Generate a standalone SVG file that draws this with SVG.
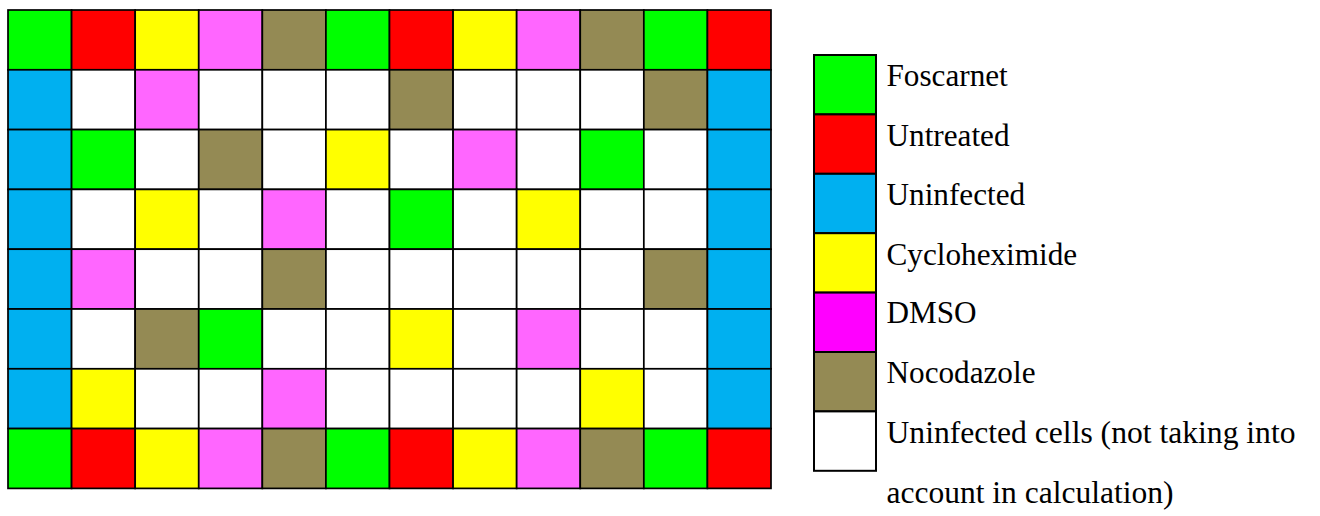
<svg xmlns="http://www.w3.org/2000/svg" width="1320" height="516" viewBox="0 0 1320 516">
<style>
rect{stroke:#000;stroke-width:1.7}
.g{fill:#00FF00}.r{fill:#FF0000}.b{fill:#00B0F0}.y{fill:#FFFF00}.p{fill:#FF66FF}.m{fill:#FF00FF}.n{fill:#948A54}.w{fill:#FFFFFF}
.lg rect{stroke-width:2}
</style>
<rect x="0" y="0" width="1320" height="516" fill="#fff" style="stroke:none"/>
<g id="plate">
<g id="row0">
<rect class="g" x="8" y="10" width="63.58" height="59.8"/><rect class="r" x="71.58" y="10" width="63.58" height="59.8"/><rect class="y" x="135.17" y="10" width="63.58" height="59.8"/><rect class="p" x="198.75" y="10" width="63.58" height="59.8"/><rect class="n" x="262.33" y="10" width="63.58" height="59.8"/><rect class="g" x="325.92" y="10" width="63.58" height="59.8"/><rect class="r" x="389.5" y="10" width="63.58" height="59.8"/><rect class="y" x="453.08" y="10" width="63.58" height="59.8"/><rect class="p" x="516.67" y="10" width="63.58" height="59.8"/><rect class="n" x="580.25" y="10" width="63.58" height="59.8"/><rect class="g" x="643.83" y="10" width="63.58" height="59.8"/><rect class="r" x="707.42" y="10" width="63.58" height="59.8"/>
</g>
<g id="row1">
<rect class="b" x="8" y="69.8" width="63.58" height="59.8"/><rect class="w" x="71.58" y="69.8" width="63.58" height="59.8"/><rect class="p" x="135.17" y="69.8" width="63.58" height="59.8"/><rect class="w" x="198.75" y="69.8" width="63.58" height="59.8"/><rect class="w" x="262.33" y="69.8" width="63.58" height="59.8"/><rect class="w" x="325.92" y="69.8" width="63.58" height="59.8"/><rect class="n" x="389.5" y="69.8" width="63.58" height="59.8"/><rect class="w" x="453.08" y="69.8" width="63.58" height="59.8"/><rect class="w" x="516.67" y="69.8" width="63.58" height="59.8"/><rect class="w" x="580.25" y="69.8" width="63.58" height="59.8"/><rect class="n" x="643.83" y="69.8" width="63.58" height="59.8"/><rect class="b" x="707.42" y="69.8" width="63.58" height="59.8"/>
</g>
<g id="row2">
<rect class="b" x="8" y="129.6" width="63.58" height="59.8"/><rect class="g" x="71.58" y="129.6" width="63.58" height="59.8"/><rect class="w" x="135.17" y="129.6" width="63.58" height="59.8"/><rect class="n" x="198.75" y="129.6" width="63.58" height="59.8"/><rect class="w" x="262.33" y="129.6" width="63.58" height="59.8"/><rect class="y" x="325.92" y="129.6" width="63.58" height="59.8"/><rect class="w" x="389.5" y="129.6" width="63.58" height="59.8"/><rect class="p" x="453.08" y="129.6" width="63.58" height="59.8"/><rect class="w" x="516.67" y="129.6" width="63.58" height="59.8"/><rect class="g" x="580.25" y="129.6" width="63.58" height="59.8"/><rect class="w" x="643.83" y="129.6" width="63.58" height="59.8"/><rect class="b" x="707.42" y="129.6" width="63.58" height="59.8"/>
</g>
<g id="row3">
<rect class="b" x="8" y="189.4" width="63.58" height="59.8"/><rect class="w" x="71.58" y="189.4" width="63.58" height="59.8"/><rect class="y" x="135.17" y="189.4" width="63.58" height="59.8"/><rect class="w" x="198.75" y="189.4" width="63.58" height="59.8"/><rect class="p" x="262.33" y="189.4" width="63.58" height="59.8"/><rect class="w" x="325.92" y="189.4" width="63.58" height="59.8"/><rect class="g" x="389.5" y="189.4" width="63.58" height="59.8"/><rect class="w" x="453.08" y="189.4" width="63.58" height="59.8"/><rect class="y" x="516.67" y="189.4" width="63.58" height="59.8"/><rect class="w" x="580.25" y="189.4" width="63.58" height="59.8"/><rect class="w" x="643.83" y="189.4" width="63.58" height="59.8"/><rect class="b" x="707.42" y="189.4" width="63.58" height="59.8"/>
</g>
<g id="row4">
<rect class="b" x="8" y="249.2" width="63.58" height="59.8"/><rect class="p" x="71.58" y="249.2" width="63.58" height="59.8"/><rect class="w" x="135.17" y="249.2" width="63.58" height="59.8"/><rect class="w" x="198.75" y="249.2" width="63.58" height="59.8"/><rect class="n" x="262.33" y="249.2" width="63.58" height="59.8"/><rect class="w" x="325.92" y="249.2" width="63.58" height="59.8"/><rect class="w" x="389.5" y="249.2" width="63.58" height="59.8"/><rect class="w" x="453.08" y="249.2" width="63.58" height="59.8"/><rect class="w" x="516.67" y="249.2" width="63.58" height="59.8"/><rect class="w" x="580.25" y="249.2" width="63.58" height="59.8"/><rect class="n" x="643.83" y="249.2" width="63.58" height="59.8"/><rect class="b" x="707.42" y="249.2" width="63.58" height="59.8"/>
</g>
<g id="row5">
<rect class="b" x="8" y="309" width="63.58" height="59.8"/><rect class="w" x="71.58" y="309" width="63.58" height="59.8"/><rect class="n" x="135.17" y="309" width="63.58" height="59.8"/><rect class="g" x="198.75" y="309" width="63.58" height="59.8"/><rect class="w" x="262.33" y="309" width="63.58" height="59.8"/><rect class="w" x="325.92" y="309" width="63.58" height="59.8"/><rect class="y" x="389.5" y="309" width="63.58" height="59.8"/><rect class="w" x="453.08" y="309" width="63.58" height="59.8"/><rect class="p" x="516.67" y="309" width="63.58" height="59.8"/><rect class="w" x="580.25" y="309" width="63.58" height="59.8"/><rect class="w" x="643.83" y="309" width="63.58" height="59.8"/><rect class="b" x="707.42" y="309" width="63.58" height="59.8"/>
</g>
<g id="row6">
<rect class="b" x="8" y="368.8" width="63.58" height="59.8"/><rect class="y" x="71.58" y="368.8" width="63.58" height="59.8"/><rect class="w" x="135.17" y="368.8" width="63.58" height="59.8"/><rect class="w" x="198.75" y="368.8" width="63.58" height="59.8"/><rect class="p" x="262.33" y="368.8" width="63.58" height="59.8"/><rect class="w" x="325.92" y="368.8" width="63.58" height="59.8"/><rect class="w" x="389.5" y="368.8" width="63.58" height="59.8"/><rect class="w" x="453.08" y="368.8" width="63.58" height="59.8"/><rect class="w" x="516.67" y="368.8" width="63.58" height="59.8"/><rect class="y" x="580.25" y="368.8" width="63.58" height="59.8"/><rect class="w" x="643.83" y="368.8" width="63.58" height="59.8"/><rect class="b" x="707.42" y="368.8" width="63.58" height="59.8"/>
</g>
<g id="row7">
<rect class="g" x="8" y="428.6" width="63.58" height="59.8"/><rect class="r" x="71.58" y="428.6" width="63.58" height="59.8"/><rect class="y" x="135.17" y="428.6" width="63.58" height="59.8"/><rect class="p" x="198.75" y="428.6" width="63.58" height="59.8"/><rect class="n" x="262.33" y="428.6" width="63.58" height="59.8"/><rect class="g" x="325.92" y="428.6" width="63.58" height="59.8"/><rect class="r" x="389.5" y="428.6" width="63.58" height="59.8"/><rect class="y" x="453.08" y="428.6" width="63.58" height="59.8"/><rect class="p" x="516.67" y="428.6" width="63.58" height="59.8"/><rect class="n" x="580.25" y="428.6" width="63.58" height="59.8"/><rect class="g" x="643.83" y="428.6" width="63.58" height="59.8"/><rect class="r" x="707.42" y="428.6" width="63.58" height="59.8"/>
</g>
</g>
<g id="legend" class="lg" font-family="Liberation Serif" font-size="31" fill="#000">
<g id="leg-foscarnet"><rect class="g" x="814" y="55" width="62" height="59.4"/><text x="886.5" y="86" textLength="121.3" lengthAdjust="spacingAndGlyphs">Foscarnet</text></g>
<g id="leg-untreated"><rect class="r" x="814" y="114.4" width="62" height="59.4"/><text x="886.5" y="145.5" textLength="123" lengthAdjust="spacingAndGlyphs">Untreated</text></g>
<g id="leg-uninfected"><rect class="b" x="814" y="173.8" width="62" height="59.4"/><text x="886.5" y="205" textLength="138.6" lengthAdjust="spacingAndGlyphs">Uninfected</text></g>
<g id="leg-cycloheximide"><rect class="y" x="814" y="233.2" width="62" height="59.4"/><text x="886.5" y="264.5" textLength="190.7" lengthAdjust="spacingAndGlyphs">Cycloheximide</text></g>
<g id="leg-dmso"><rect class="m" x="814" y="292.6" width="62" height="59.4"/><text x="886.5" y="322.5" textLength="90.1" lengthAdjust="spacingAndGlyphs">DMSO</text></g>
<g id="leg-nocodazole"><rect class="n" x="814" y="352" width="62" height="59.4"/><text x="886.5" y="383" textLength="149" lengthAdjust="spacingAndGlyphs">Nocodazole</text></g>
<g id="leg-cells"><rect class="w" x="814" y="411.4" width="62" height="59.4"/><text x="886.5" y="442.5" textLength="409" lengthAdjust="spacingAndGlyphs">Uninfected cells (not taking into</text><text x="886.5" y="502.5" textLength="287" lengthAdjust="spacingAndGlyphs">account in calculation)</text></g>
</g>
</svg>
